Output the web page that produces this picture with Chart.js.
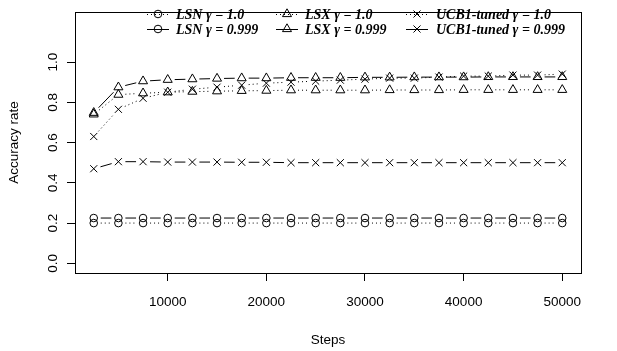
<!DOCTYPE html>
<html>
<head>
<meta charset="utf-8">
<script src="https://cdn.jsdelivr.net/npm/chart.js@4/dist/chart.umd.min.js"></script>
<style>
  html, body { margin: 0; padding: 0; background: #fff; }
</style>
</head>
<body>
<canvas id="chart" width="617" height="351"></canvas>
<script>
const steps = [2500, 5000, 7500, 10000, 12500, 15000, 17500, 20000, 22500, 25000,
  27500, 30000, 32500, 35000, 37500, 40000, 42500, 45000, 47500, 50000];

const lsnGamma1 = [0.20, 0.20, 0.20, 0.20, 0.20, 0.20, 0.20, 0.20, 0.20, 0.20,
  0.20, 0.20, 0.20, 0.20, 0.20, 0.20, 0.20, 0.20, 0.20, 0.20];
const lsnGamma999 = [0.225, 0.225, 0.225, 0.225, 0.225, 0.225, 0.225, 0.225, 0.225, 0.225,
  0.225, 0.225, 0.225, 0.225, 0.225, 0.225, 0.225, 0.225, 0.225, 0.225];
const lsxGamma1 = [0.74, 0.838, 0.845, 0.85, 0.853, 0.855, 0.857, 0.858, 0.86, 0.86,
  0.86, 0.86, 0.861, 0.861, 0.861, 0.862, 0.862, 0.862, 0.862, 0.862];
const lsxGamma999 = [0.748, 0.875, 0.905, 0.912, 0.915, 0.918, 0.92, 0.92, 0.922, 0.922,
  0.922, 0.924, 0.924, 0.925, 0.925, 0.925, 0.926, 0.926, 0.926, 0.926];
const ucbGamma1 = [0.63, 0.765, 0.82, 0.85, 0.865, 0.875, 0.885, 0.895, 0.90, 0.905,
  0.91, 0.915, 0.92, 0.92, 0.925, 0.93, 0.93, 0.935, 0.935, 0.94];
const ucbGamma999 = [0.47, 0.505, 0.505, 0.503, 0.503, 0.503, 0.502, 0.502, 0.50, 0.50,
  0.50, 0.50, 0.50, 0.50, 0.50, 0.50, 0.50, 0.50, 0.50, 0.50];

const xTicks = [10000, 20000, 30000, 40000, 50000];
const yTicks = [0, 0.2, 0.4, 0.6, 0.8, 1.0];

const seriesNames = ["LSN γ = 1.0", "LSX γ = 1.0", "UCB1-tuned γ = 1.0",
  "LSN γ = 0.999", "LSX γ = 0.999", "UCB1-tuned γ = 0.999"];
const seriesValues = [lsnGamma1, lsxGamma1, ucbGamma1, lsnGamma999, lsxGamma999, ucbGamma999];

const DOTTED = [1, 3];
const SOLID = [];
const GAP = 7;

function styleFor(i) {
  const shapes = ["circle", "triangle", "crossRot"];
  const radii = [3.8, 5.2, 5];
  return {
    pointStyle: shapes[i % 3],
    pointRadius: radii[i % 3],
    borderDash: i < 3 ? DOTTED : SOLID,
  };
}

const datasets = seriesValues.map((vals, i) => {
  const s = styleFor(i);
  return {
    label: seriesNames[i],
    data: steps.map((x, k) => ({ x: x, y: vals[k] })),
    showLine: false,
    pointStyle: s.pointStyle,
    pointRadius: s.pointRadius,
    pointHoverRadius: s.pointRadius,
    pointBorderColor: "#000",
    pointBackgroundColor: "rgba(0,0,0,0)",
    pointBorderWidth: 1,
    borderDash: s.borderDash,
  };
});

// R style type="b": segments between points with a gap around each symbol
const gappedLines = {
  id: "gappedLines",
  beforeDatasetsDraw(chart) {
    const ctx = chart.ctx;
    const area = chart.chartArea;
    ctx.save();
    ctx.beginPath();
    ctx.rect(area.left, area.top, area.right - area.left, area.bottom - area.top);
    ctx.clip();
    ctx.strokeStyle = "#000";
    ctx.lineWidth = 1;
    chart.data.datasets.forEach((ds, i) => {
      const pts = chart.getDatasetMeta(i).data;
      ctx.setLineDash(ds.borderDash);
      for (let k = 1; k < pts.length; k++) {
        const a = pts[k - 1], b = pts[k];
        const dx = b.x - a.x, dy = b.y - a.y;
        const len = Math.hypot(dx, dy);
        if (len <= 2 * GAP) continue;
        const ux = dx / len, uy = dy / len;
        ctx.beginPath();
        ctx.moveTo(a.x + ux * GAP, a.y + uy * GAP);
        ctx.lineTo(b.x - ux * GAP, b.y - uy * GAP);
        ctx.stroke();
      }
    });
    ctx.restore();
  },
};

const plotBox = {
  id: "plotBox",
  afterDraw(chart) {
    const { left, top, right, bottom } = chart.chartArea;
    const ctx = chart.ctx;
    ctx.save();
    ctx.strokeStyle = "#000";
    ctx.lineWidth = 1;
    ctx.setLineDash([]);
    ctx.strokeRect(Math.round(left) + 0.5, Math.round(top) + 0.5,
      Math.round(right - left), Math.round(bottom - top));
    ctx.restore();
  },
};

// legend in 3 columns, 2 rows, no box
const rLegend = {
  id: "rLegend",
  afterDraw(chart) {
    const ctx = chart.ctx;
    const symX = [158, 287, 417];
    const textX = [176, 305, 436];
    const rowY = [14, 29];
    ctx.save();
    ctx.font = 'italic bold 14px "Liberation Serif"';
    ctx.textBaseline = "middle";
    ctx.textAlign = "left";
    chart.data.datasets.forEach((ds, i) => {
      const col = i % 3, row = Math.floor(i / 3);
      const x = symX[col], y = rowY[row];
      ctx.strokeStyle = "#000";
      ctx.lineWidth = 1;
      ctx.setLineDash(ds.borderDash);
      ctx.beginPath();
      ctx.moveTo(x - 11, y + 0.5);
      ctx.lineTo(x + 11, y + 0.5);
      ctx.stroke();
      ctx.setLineDash([]);
      ctx.fillStyle = "rgba(0,0,0,0)";
      Chart.helpers.drawPoint(ctx, {
        pointStyle: ds.pointStyle, radius: ds.pointRadius, rotation: 0, borderWidth: 1,
      }, x, y);
      ctx.fillStyle = "#000";
      ctx.fillText(ds.label, textX[col], y + 1);
    });
    ctx.restore();
  },
};

const axisFont = { family: "Liberation Sans", size: 13.5 };

new Chart(document.getElementById("chart"), {
  type: "scatter",
  data: { datasets: datasets },
  plugins: [gappedLines, plotBox, rLegend],
  options: {
    responsive: false,
    devicePixelRatio: 1,
    animation: false,
    layout: { padding: { top: 5, right: 36, left: 0, bottom: 0 } },
    plugins: { legend: { display: false }, tooltip: { enabled: false } },
    scales: {
      x: {
        type: "linear",
        min: 600,
        max: 51900,
        afterBuildTicks: (axis) => { axis.ticks = xTicks.map((v) => ({ value: v })); },
        afterFit: (axis) => { axis.height = 78; },
        border: { display: false },
        grid: { drawOnChartArea: false, drawTicks: true, tickLength: 8, color: "#000" },
        ticks: { color: "#000", font: axisFont, padding: 13, maxRotation: 0,
          callback: (v) => String(v) },
        title: { display: true, text: "Steps", color: "#000", font: axisFont,
          padding: { top: 0, bottom: 3 } },
      },
      y: {
        type: "linear",
        min: -0.048,
        max: 1.248,
        afterBuildTicks: (axis) => { axis.ticks = yTicks.map((v) => ({ value: v })); },
        afterFit: (axis) => { axis.width = 75; },
        border: { display: false },
        grid: { drawOnChartArea: false, drawTicks: true, tickLength: 8, color: "#000" },
        ticks: { color: "#000", font: axisFont, padding: 4, minRotation: 90, maxRotation: 90,
          crossAlign: "center", callback: (v) => Number(v).toFixed(1) },
        title: { display: true, text: "Accuracy rate", color: "#000", font: axisFont,
          padding: { top: 6, bottom: 0 } },
      },
    },
  },
});
</script>
</body>
</html>
